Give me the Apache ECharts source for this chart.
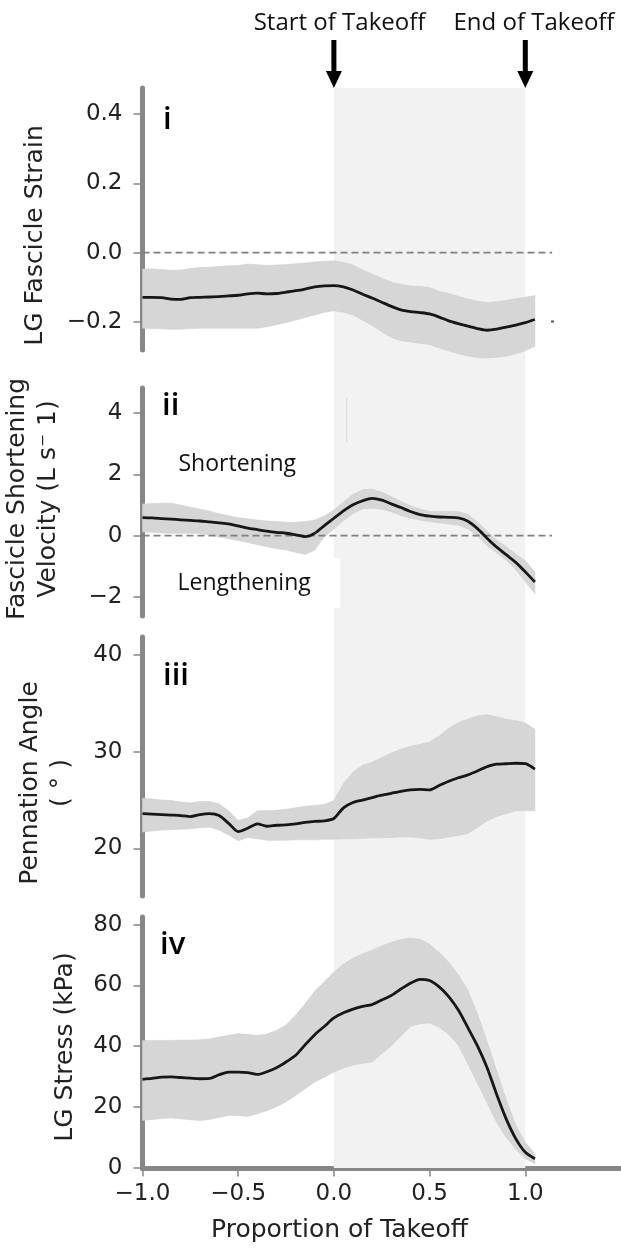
<!DOCTYPE html>
<html>
<head>
<meta charset="utf-8">
<script src="https://cdn.jsdelivr.net/npm/echarts@6/dist/echarts.min.js"></script>
<style>
html,body{margin:0;padding:0;background:#fff;}
#chart{width:621px;height:1251px;}
</style>
</head>
<body>
<div id="chart"></div>
<script>
// ---------- data ----------
const xs = [-1.00,-0.95,-0.90,-0.85,-0.80,-0.75,-0.70,-0.65,-0.60,-0.55,-0.50,-0.45,-0.40,-0.35,-0.30,-0.25,-0.20,-0.15,-0.10,-0.05,
            0.00,0.05,0.10,0.15,0.20,0.25,0.30,0.35,0.40,0.45,0.50,0.55,0.60,0.65,0.70,0.75,0.80,0.85,0.90,0.95,1.00,1.05];

const strainMean  = [-0.129,-0.129,-0.130,-0.134,-0.135,-0.130,-0.129,-0.128,-0.127,-0.125,-0.123,-0.119,-0.117,-0.119,-0.118,-0.114,-0.110,-0.105,-0.099,-0.096,
                     -0.095,-0.099,-0.108,-0.120,-0.131,-0.143,-0.155,-0.165,-0.170,-0.173,-0.177,-0.186,-0.197,-0.205,-0.212,-0.219,-0.224,-0.221,-0.215,-0.209,-0.202,-0.193];
const strainUpper = [-0.047,-0.047,-0.049,-0.051,-0.050,-0.046,-0.043,-0.042,-0.040,-0.038,-0.037,-0.033,-0.035,-0.037,-0.036,-0.034,-0.032,-0.030,-0.027,-0.025,
                     -0.024,-0.028,-0.036,-0.050,-0.062,-0.074,-0.085,-0.092,-0.096,-0.098,-0.101,-0.112,-0.118,-0.126,-0.134,-0.140,-0.144,-0.142,-0.138,-0.133,-0.129,-0.124];
const strainLower = [-0.218,-0.219,-0.220,-0.221,-0.221,-0.219,-0.218,-0.218,-0.218,-0.218,-0.218,-0.218,-0.218,-0.214,-0.208,-0.202,-0.195,-0.187,-0.180,-0.172,
                     -0.168,-0.172,-0.180,-0.195,-0.210,-0.228,-0.245,-0.254,-0.258,-0.262,-0.265,-0.275,-0.284,-0.292,-0.298,-0.303,-0.304,-0.302,-0.299,-0.292,-0.283,-0.270];

const velMean  = [0.59,0.58,0.56,0.54,0.52,0.50,0.48,0.45,0.42,0.39,0.32,0.25,0.20,0.15,0.11,0.08,0.03,-0.03,0.08,0.33,
                  0.57,0.81,1.01,1.14,1.22,1.16,1.04,0.92,0.79,0.69,0.64,0.61,0.60,0.58,0.47,0.23,-0.08,-0.37,-0.62,-0.87,-1.18,-1.51];
const velUpper = [1.03,1.05,1.06,1.06,1.00,0.93,0.87,0.80,0.72,0.65,0.59,0.55,0.51,0.48,0.46,0.44,0.44,0.46,0.51,0.64,
                  0.84,1.10,1.35,1.50,1.52,1.42,1.28,1.12,0.98,0.87,0.80,0.79,0.79,0.78,0.70,0.45,0.15,-0.15,-0.35,-0.60,-0.82,-1.18];
const velLower = [0.13,0.11,0.09,0.08,0.08,0.08,0.07,0.03,-0.04,-0.10,-0.16,-0.22,-0.29,-0.36,-0.42,-0.47,-0.54,-0.61,-0.47,-0.03,
                  0.22,0.50,0.72,0.88,0.90,0.86,0.78,0.66,0.57,0.51,0.46,0.42,0.38,0.35,0.22,-0.01,-0.33,-0.56,-0.80,-1.10,-1.50,-1.89];

const pennMean  = [23.6,23.55,23.5,23.45,23.4,23.3,23.5,23.6,23.4,22.6,21.75,22.1,22.55,22.3,22.4,22.45,22.55,22.7,22.8,22.85,
                   23.1,24.2,24.75,25.0,25.25,25.5,25.7,25.9,26.05,26.1,26.05,26.5,26.95,27.3,27.6,28.0,28.45,28.7,28.75,28.8,28.75,28.2];
const pennUpper = [25.2,25.1,25.0,24.95,24.8,24.7,24.85,24.85,24.6,23.9,22.9,23.15,23.9,23.9,23.95,24.05,24.2,24.35,24.45,24.55,
                   24.95,26.7,27.9,28.6,28.9,29.4,29.85,30.25,30.55,30.75,31.0,31.6,32.4,33.0,33.35,33.7,33.8,33.6,33.35,33.2,32.95,32.3];
const pennLower = [21.7,21.8,21.9,21.95,22.0,22.05,22.15,22.2,21.9,21.4,20.8,21.15,21.0,20.85,20.85,20.85,20.9,20.9,20.9,20.95,
                   20.95,21.0,21.0,21.05,21.1,21.1,21.15,21.2,21.2,21.1,20.95,21.0,21.2,21.35,21.55,22.2,22.85,23.3,23.6,23.9,23.9,23.9];

const stressMean  = [29.1,29.4,29.8,29.9,29.7,29.5,29.3,29.4,30.6,31.5,31.5,31.3,30.7,31.6,32.9,34.8,37.0,40.5,43.8,46.5,
                     49.3,51.0,52.2,53.1,53.7,55.2,56.7,58.8,60.7,62.0,61.6,59.5,56.3,51.9,46.1,40.1,33.0,24.2,16.1,9.6,5.1,3.0];
const stressUpper = [41.9,41.9,41.9,41.9,42.0,42.0,42.1,42.4,43.0,43.6,44.1,43.9,43.5,44.0,45.2,47.0,50.2,54.0,58.1,61.2,
                     64.4,67.0,68.9,70.4,71.6,73.0,74.2,75.1,75.6,75.2,73.5,70.8,67.6,63.5,58.4,50.6,41.6,32.0,22.5,14.0,8.4,4.6];
const stressLower = [15.6,15.9,16.2,16.4,16.1,15.8,15.6,15.9,16.6,17.2,17.2,16.9,17.8,18.8,20.1,21.7,23.8,26.0,28.2,29.8,
                     31.5,32.8,33.8,34.4,34.8,37.5,40.1,43.3,46.5,47.4,47.6,46.2,43.9,40.3,34.1,27.8,21.4,15.0,10.0,6.1,3.0,1.3];

const xTicks      = [-1.0,-0.5,0.0,0.5,1.0];
const strainTicks = [-0.2,0.0,0.2,0.4];
const velTicks    = [-2,0,2,4];
const pennTicks   = [20,30,40];
const stressTicks = [0,20,40,60,80];
const takeoffSpan = [0,1];
const zeroLineX   = [-1,1.14];
const panelLetters = ['i','ii','iii','iv'];
const yTitles = ['LG Fascicle Strain','Fascicle Shortening\nVelocity (L s\u207B 1)','Pennation Angle\n( \u00B0 )','LG Stress (kPa)'];
const xTitle = 'Proportion of Takeoff';
const annotations = ['Start of Takeoff','End of Takeoff'];
const regionLabels = ['Shortening','Lengthening'];

// ---------- layout ----------
const GRID_LEFT = 142.5, GRID_RIGHT = -2.1;
const grids = [
  {top:88,  height:262, min:-0.281, max:0.475, ticks:strainTicks, dec:1},
  {top:388, height:228, min:-2.62,  max:4.82,  ticks:velTicks,    dec:0},
  {top:637, height:259, min:15.1,   max:41.83, ticks:pennTicks,   dec:0},
  {top:917, height:251.5, min:-0.23, max:82.5, ticks:stressTicks, dec:0}
];
const AXIS_COLOR = '#878787';
const TXT = '#222';
const fmt = (v, d) => (v < 0 ? '\u2212' : '') + Math.abs(v).toFixed(d);

const chart = echarts.init(document.getElementById('chart'), null, {renderer:'canvas'});

const gridOpts = grids.map(g => ({left:GRID_LEFT, right:GRID_RIGHT, top:g.top, height:g.height, containLabel:false}));
gridOpts.push({left:GRID_LEFT, right:GRID_RIGHT, top:88, height:1080});

const xAxes = [];
const yAxes = [];
for (let i = 0; i < 5; i++) {
  const shown = (i === 3);
  xAxes.push({
    type:'value', gridIndex:i, min:-1, max:1.5, show: shown,
    axisLine:{show:true, onZero:false, lineStyle:{color:AXIS_COLOR, width:5}},
    axisTick:{show:true, length:8, customValues:xTicks, lineStyle:{color:AXIS_COLOR, width:1.5}},
    axisLabel:{show:true, customValues:xTicks, formatter:v => fmt(v,1), fontFamily:'DejaVu Sans', fontSize:23, color:TXT, margin:14},
    splitLine:{show:false}
  });
}
grids.forEach((g, i) => {
  yAxes.push({
    type:'value', gridIndex:i, min:g.min, max:g.max,
    axisLine:{show:true, onZero:false, lineStyle:{color:AXIS_COLOR, width:5}},
    axisTick:{show:true, length:9, customValues:g.ticks, lineStyle:{color:AXIS_COLOR, width:1.5}},
    axisLabel:{show:true, customValues:g.ticks, formatter:v => fmt(v,g.dec), fontFamily:'DejaVu Sans', fontSize:23, color:TXT, margin:20},
    splitLine:{show:false}
  });
});
yAxes.push({type:'value', gridIndex:4, min:0, max:1, show:false});

function band(i, lower, upper) {
  return {
    type:'custom', xAxisIndex:i, yAxisIndex:i, z:2, silent:true, clip:false,
    data: xs.map((x, k) => [x, lower[k], upper[k]]),
    encode:{x:0, y:[1,2]},
    renderItem:(params, api) => {
      if (params.dataIndex !== 0) return null;
      const pts = [];
      for (let k = 0; k < xs.length; k++) pts.push(api.coord([xs[k], upper[k]]));
      for (let k = xs.length - 1; k >= 0; k--) pts.push(api.coord([xs[k], lower[k]]));
      return {type:'polygon', shape:{points:pts}, style:{fill:'#d6d6d6', stroke:'#d0d0d0', lineWidth:0.6}};
    }
  };
}
function meanLine(i, mean) {
  return {
    type:'line', xAxisIndex:i, yAxisIndex:i, z:4, silent:true, clip:false,
    data: xs.map((x, k) => [x, mean[k]]),
    symbol:'none', smooth:0.25,
    lineStyle:{color:'#161616', width:2.8}
  };
}
function zeroLine(i) {
  return {
    type:'line', xAxisIndex:i, yAxisIndex:i, z:3, silent:true,
    data: [[zeroLineX[0],0],[zeroLineX[1],0]], symbol:'none',
    lineStyle:{color:'#808080', width:1.8, type:[7,4]}
  };
}

const series = [
  {
    type:'line', xAxisIndex:4, yAxisIndex:4, z:1, silent:true, data:[[0,0]], symbol:'none',
    lineStyle:{opacity:0},
    markArea:{silent:true, itemStyle:{color:'#f2f2f2'}, data:[[{xAxis:takeoffSpan[0]},{xAxis:takeoffSpan[1]}]]}
  },
  zeroLine(0), zeroLine(1),
  band(0, strainLower, strainUpper), meanLine(0, strainMean),
  band(1, velLower, velUpper), meanLine(1, velMean),
  band(2, pennLower, pennUpper), meanLine(2, pennMean),
  band(3, stressLower, stressUpper), meanLine(3, stressMean)
];

chart.setOption({
  animation:false,
  backgroundColor:'#fff',
  grid: gridOpts,
  xAxis: xAxes,
  yAxis: yAxes,
  series: series
});

// ---------- annotations ----------
const arrowTop = 40, headTop = 71, arrowTip = 88;
const graphics = [];
takeoffSpan.forEach(v => {
  const cx = chart.convertToPixel({xAxisIndex:3}, v);
  graphics.push({
    type:'polygon', z:20,
    shape:{points:[[cx-2.5,arrowTop],[cx+2.5,arrowTop],[cx+2.5,headTop],[cx+8,headTop],[cx,arrowTip],[cx-8,headTop],[cx-2.5,headTop]]},
    style:{fill:'#000'}
  });
});
const annFont = '24px "Open Sans"';
graphics.push({type:'text', z:20, x:339.5, y:23, style:{text:annotations[0], font:annFont, fill:'#111', align:'center', verticalAlign:'middle'}});
graphics.push({type:'text', z:20, x:534, y:23, style:{text:annotations[1], font:annFont, fill:'#111', align:'center', verticalAlign:'middle'}});

// panel letters
const letterPos = [[163,120],[162,406.5],[163,676],[160,945]];
panelLetters.forEach((t, i) => {
  graphics.push({type:'text', z:20, x:letterPos[i][0], y:letterPos[i][1],
    style:{text:t, font:'600 31px "Open Sans"', fill:'#000', align:'left', verticalAlign:'middle'}});
});

// y titles
const titlePos = [[35,235.5],[33,499],[46,783],[65.5,1047]];
yTitles.forEach((t, i) => {
  graphics.push({type:'text', z:20, x:titlePos[i][0], y:titlePos[i][1], rotation:Math.PI/2,
    style:{text:t, font:'25px "DejaVu Sans"', fill:TXT, align:'center', verticalAlign:'middle', lineHeight:31}});
});
// x title
graphics.push({type:'text', z:20, x:339.5, y:1230,
  style:{text:xTitle, font:'25px "DejaVu Sans"', fill:TXT, align:'center', verticalAlign:'middle'}});

// region labels in panel ii
graphics.push({type:'rect', z:8, shape:{x:170, y:558, width:170, height:50}, style:{fill:'#fff'}});
graphics.push({type:'text', z:20, x:178.5, y:464, style:{text:regionLabels[0], font:'23px "Open Sans"', fill:'#111', align:'left', verticalAlign:'middle'}});
graphics.push({type:'text', z:20, x:177.5, y:583.5, style:{text:regionLabels[1], font:'23px "Open Sans"', fill:'#111', align:'left', verticalAlign:'middle'}});
// small artefacts from the original figure
graphics.push({type:'line', z:8, shape:{x1:346.7, y1:398, x2:346.7, y2:442}, style:{stroke:'#d9d9d9', lineWidth:1}});
graphics.push({type:'rect', z:8, shape:{x:551, y:320.5, width:3, height:2}, style:{fill:'#555'}});

chart.setOption({graphic: graphics});
</script>
</body>
</html>
